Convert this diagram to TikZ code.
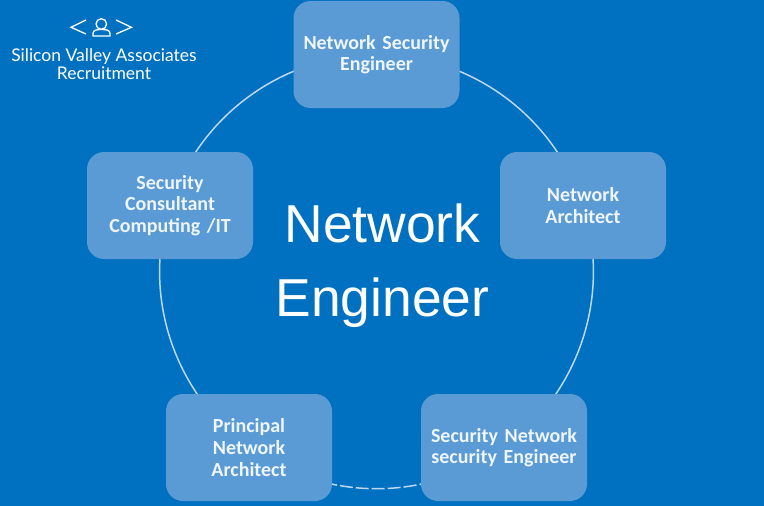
\documentclass[tikz,border=0pt]{standalone}
\usepackage{fontspec}
\setmainfont{Carlito}[WordSpace=0.55]
\newfontfamily\titlefont{Liberation Sans}
\newfontfamily\logofont{Lato}
\usetikzlibrary{backgrounds}
\definecolor{SVBlue}{HTML}{0070C0}
\definecolor{SVBox}{HTML}{5B9BD5}
\definecolor{SVLink}{HTML}{BDD7EE}
\definecolor{SVText}{HTML}{EEF5FB}

\begin{document}
\begin{tikzpicture}[
    x=1pt,y=-1pt,
    role/.style={rounded corners=17pt,fill=SVBox,minimum width=166pt,minimum height=107pt,
      text width=160pt,align=center,inner sep=0pt,text=SVText,
      font=\fontsize{20}{21.6}\selectfont\bfseries},
    link/.style={draw=SVLink,line width=1.5pt,looseness=0.94},
    logoline/.style={draw=white,line width=1.3pt},
    title/.style={text=white,align=center,font=\titlefont\fontsize{53.4}{74}\selectfont},
    logotext/.style={text=white,align=center,font=\logofont\fontsize{17.5}{18}\selectfont}
  ]
    \useasboundingbox (0,0) rectangle (764,506);
    \node[role] (security) at (376.5,54.5) {Network Security\\Engineer};
    \node[role] (architect) at (583,205.5) {Network\\Architect};
    \node[role] (secnet) at (504,447.5) {Security Network\\security Engineer};
    \node[role] (principal) at (249,447.5) {Principal\\Network\\Architect};
    \node[role] (consultant) at (170,205.5) {Security\\Consultant\\Computing /IT};
    \node[title] (centre) at (382.5,265.5) {Network\\Engineer};
    \node[logotext] (logo) at (104,64.5) {Silicon Valley Associates\\Recruitment};

    \draw[logoline] (86,20) -- (71,27.3) -- (86,34);
    \draw[logoline] (116,20) -- (131.5,27.3) -- (116,34);
    \draw[logoline] (101.3,24) circle (5.3);
    \draw[logoline] (93,36) -- (93,33.5) .. controls (93,30) and (97,29.5) .. (101.3,29.5)
      .. controls (106,29.5) and (110,30) .. (110,33.5) -- (110,36) -- cycle;

    \begin{scope}[on background layer]
      \fill[SVBlue] (0,0) rectangle (764,506);
      \draw[link] (security.center) to[bend left=36] (architect.center);
      \draw[link] (architect.center) to[bend left=36] (secnet.center);
      \draw[link,dash pattern=on 13pt off 3pt] (secnet.center) to[bend left=36] (principal.center);
      \draw[link] (principal.center) to[bend left=36] (consultant.center);
      \draw[link] (consultant.center) to[bend left=36] (security.center);
    \end{scope}
  \end{tikzpicture}
\end{document}
